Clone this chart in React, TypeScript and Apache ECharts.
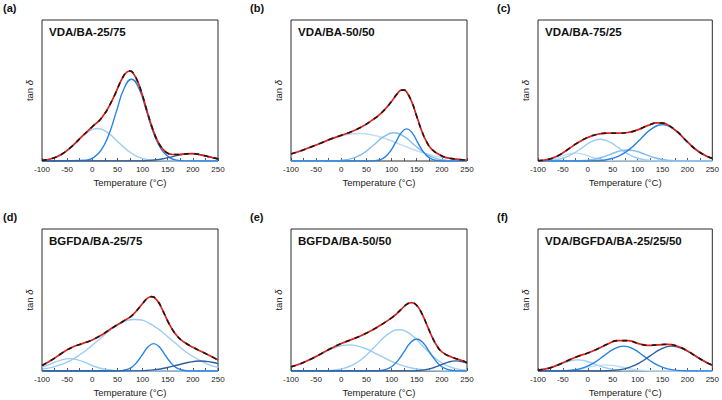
import React, { useEffect, useRef } from "react";
import * as echarts from "echarts";

// ---------- data: [temperature (°C), tan δ (relative units, 0-100 of frame)] ----------
const xTicks = { min: -100, max: 250, step: 50 };

// (a) VDA/BA-25/75
const aTotal = [[-100,0.5],[-80,1.8],[-60,5.0],[-40,10.6],[-20,17.6],[0,24.3],[20,31.2],[40,43.4],[60,58.9],[70,63.4],[75,63.8],[80,63.0],[90,56.6],[100,46.3],[110,34.1],[120,22.8],[130,14.1],[140,8.5],[150,5.5],[160,4.6],[170,4.6],[180,4.9],[195,5.2],[200,5.2],[220,4.0],[240,2.3],[250,1.5]];
const aC1 = [[-100,0.5],[-90,1.0],[-70,3.1],[-50,7.5],[-30,14.0],[-10,20.3],[10,23.0],[30,20.3],[50,14.0],[70,7.5],[90,3.1],[110,1.0],[130,0.3],[150,0.05],[250,0]];
const aC2 = [[-100,0],[-12,0.6],[3,2.6],[18,7.9],[33,18.8],[48,35.2],[63,51.2],[78,58.0],[93,51.2],[108,35.2],[123,18.8],[138,7.9],[153,2.6],[168,0.6],[183,0.1],[250,0]];
const aC3 = [[-100,0],[90,0.06],[107.5,0.23],[125,0.7],[142.5,1.7],[160,3.15],[177.5,4.6],[195,5.2],[212.5,4.6],[230,3.15],[247.5,1.7],[250,1.5]];

// (b) VDA/BA-50/50
const bTotal = [[-100,5.0],[-80,7.3],[-60,10.0],[-40,12.8],[-20,15.7],[0,18.2],[20,20.8],[40,24.1],[60,28.6],[80,34.2],[100,42.2],[110,47.1],[120,50.3],[125,50.3],[130,48.9],[140,42.1],[150,31.7],[160,21.3],[170,13.4],[180,8.3],[200,3.6],[220,1.7],[240,0.9],[250,0.7]];
const bC1 = [[-100,5.0],[-47,11.8],[-6,17.2],[35,19.5],[76,17.2],[117,11.8],[158,6.3],[199,2.6],[240,0.9],[250,0.6]];
const bC2 = [[-100,0],[-28,0.04],[-9,0.2],[10,0.9],[29,2.7],[48,6.5],[67,12.1],[86,17.6],[105,20.0],[124,17.6],[143,12.1],[162,6.5],[181,2.7],[200,0.9],[219,0.2],[238,0.04],[250,0]];
const bC3 = [[-100,0],[56.5,0.05],[67,0.25],[77.5,1.0],[88,3.1],[98.5,7.4],[109,13.8],[119.5,20.1],[130,22.8],[140.5,20.1],[151,13.8],[161.5,7.4],[172,3.1],[182.5,1.0],[193,0.25],[203.5,0.05],[250,0]];

// (c) VDA/BA-75/25
const cTotal = [[-100,0.2],[-80,1.1],[-60,3.7],[-40,8.2],[-20,13.0],[0,16.7],[20,19.0],[40,19.8],[60,19.7],[80,20.2],[100,22.1],[120,25.1],[140,27.1],[150,26.9],[160,25.8],[180,20.6],[200,13.5],[220,7.3],[240,3.2],[250,2.0]];
const cC1 = [[-100,0.15],[-81,0.76],[-67,1.8],[-53,3.4],[-39,4.9],[-25,5.6],[-11,4.9],[3,3.4],[17,1.8],[31,0.76],[45,0.25],[59,0.06],[250,0]];
const cC2 = [[-100,0.05],[-86,0.17],[-67.5,0.7],[-49,2.1],[-30.5,5.0],[-12,9.3],[6.5,13.6],[25,15.4],[43.5,13.6],[62,9.3],[80.5,5.0],[99,2.1],[117.5,0.7],[136,0.17],[154.5,0.03],[250,0]];
const cC3 = [[-100,0],[-25,0.09],[-7.5,0.34],[10,1.06],[27.5,2.5],[45,4.7],[62.5,6.9],[80,7.8],[97.5,6.9],[115,4.7],[132.5,2.5],[150,1.06],[167.5,0.34],[185,0.09],[250,0]];
const cC4 = [[-100,0],[-4,0.05],[18,0.3],[40,1.1],[62,3.5],[84,8.4],[106,15.6],[128,22.8],[150,25.8],[172,22.8],[194,15.6],[216,8.4],[238,3.5],[250,2.0]];

// (d) BGFDA/BA-25/75
const dTotal = [[-100,3.9],[-80,7.9],[-60,12.7],[-40,16.7],[-20,19.3],[0,21.9],[20,25.7],[40,30.4],[60,34.7],[80,39.4],[100,47.5],[110,51.3],[118,52.4],[130,49.2],[140,42.7],[150,35.2],[160,28.8],[170,24.1],[180,21.0],[200,16.7],[220,13.2],[240,9.6],[250,7.8]];
const dC1 = [[-100,2.5],[-80,5.3],[-62.5,7.7],[-45,8.7],[-27.5,7.7],[-10,5.3],[7.5,2.8],[25,1.2],[42.5,0.4],[60,0.1],[77.5,0.02],[250,0]];
const dC2 = [[-100,1.3],[-59,4.9],[-23,11.8],[13,22.0],[49,32.0],[85,36.3],[121,32.0],[157,22.0],[193,11.8],[229,4.9],[250,2.6]];
const dC3 = [[-100,0],[45,0.04],[56,0.2],[67,0.85],[78,2.6],[89,6.3],[100,11.7],[111,17.0],[122,19.3],[133,17.0],[144,11.7],[155,6.3],[166,2.6],[177,0.85],[188,0.2],[199,0.04],[250,0]];
const dC4 = [[-100,0],[80,0.08],[102.5,0.3],[125,0.95],[147.5,2.3],[170,4.25],[192.5,6.2],[215,7.0],[237.5,6.2],[250,5.2]];

// (e) BGFDA/BA-50/50
const eTotal = [[-100,2.9],[-80,5.3],[-60,8.5],[-40,12.2],[-20,16.0],[0,19.3],[20,22.1],[40,25.0],[60,28.5],[80,32.7],[100,37.4],[110,40.3],[120,43.7],[130,46.9],[140,48.2],[150,46.2],[160,40.6],[170,32.7],[180,24.4],[190,17.8],[200,13.5],[220,9.7],[240,7.4],[250,5.9]];
const eC1 = [[-100,2.9],[-75,6.0],[-45,11.2],[-15,16.2],[15,18.4],[45,16.2],[75,11.2],[105,6.0],[135,2.5],[165,0.8],[195,0.2],[250,0]];
const eC2 = [[-100,0],[-49.5,0.06],[-26,0.3],[-2.5,1.3],[21,3.9],[44.5,9.4],[68,17.6],[91.5,25.6],[115,29.0],[138.5,25.6],[162,17.6],[185.5,9.4],[209,3.9],[232.5,1.3],[250,0.5]];
const eC3 = [[-100,0],[62.5,0.05],[75,0.25],[87.5,1.0],[100,3.0],[112.5,7.3],[125,13.6],[137.5,19.9],[150,22.5],[162.5,19.9],[175,13.6],[187.5,7.3],[200,3.0],[212.5,1.0],[225,0.25],[237.5,0.05],[250,0]];
const eC4 = [[-100,0],[138,0.08],[153,0.3],[168,0.96],[183,2.3],[198,4.3],[213,6.3],[228,7.1],[243,6.3],[250,5.4]];

// (f) VDA/BGFDA/BA-25/25/50
const fTotal = [[-100,0.6],[-80,1.8],[-60,4.3],[-40,7.4],[-20,10.3],[0,12.7],[20,15.6],[40,19.0],[60,21.4],[80,21.4],[100,19.5],[120,18.1],[140,18.4],[160,18.8],[180,17.4],[200,14.1],[220,9.7],[240,5.7],[250,4.1]];
const fC1 = [[-100,0.57],[-90,1.06],[-72.5,2.5],[-55,4.7],[-37.5,6.9],[-20,7.8],[-2.5,6.9],[15,4.7],[32.5,2.5],[50,1.06],[67.5,0.34],[85,0.09],[250,0]];
const fC2 = [[-100,0],[-70,0.05],[-52.5,0.19],[-35,0.58],[-17.5,1.4],[0,2.6],[17.5,3.8],[35,4.3],[52.5,3.8],[70,2.6],[87.5,1.4],[105,0.58],[122.5,0.19],[140,0.05],[250,0]];
const fC3 = [[-100,0],[-68,0.04],[-48,0.19],[-28,0.77],[-8,2.4],[12,5.7],[32,10.6],[52,15.4],[72,17.5],[92,15.4],[112,10.6],[132,5.7],[152,2.4],[172,0.77],[192,0.19],[212,0.04],[250,0]];
const fC4 = [[-100,0],[17.5,0.04],[39,0.19],[60.5,0.77],[82,2.4],[103.5,5.7],[125,10.6],[146.5,15.4],[168,17.5],[189.5,15.8],[211,11.7],[232.5,7.1],[250,4.1]];

const titles = ["VDA/BA-25/75", "VDA/BA-50/50", "VDA/BA-75/25", "BGFDA/BA-25/75", "BGFDA/BA-50/50", "VDA/BGFDA/BA-25/25/50"];
const letters = ["(a)", "(b)", "(c)", "(d)", "(e)", "(f)"];

// ---------- styling ----------
const LIGHTEST = "#bcdcf8";
const LIGHT = "#9dccf4";
const LIGHTMED = "#84bced";
const MED = "#2682e4";
const DARK = "#2d5f9f";
const RED = "#e3201b";
const INK = "#1a1a1a";
const FONT = "'Liberation Sans', Arial, Helvetica, sans-serif";

const panels = [
  { total: aTotal, comps: [[aC1, LIGHT], [aC2, MED], [aC3, DARK]] },
  { total: bTotal, comps: [[bC1, LIGHTEST], [bC2, LIGHTMED], [bC3, MED]] },
  { total: cTotal, comps: [[cC1, LIGHTEST], [cC2, LIGHT], [cC3, LIGHTMED], [cC4, MED]] },
  { total: dTotal, comps: [[dC1, LIGHT], [dC2, LIGHT], [dC3, MED], [dC4, DARK]] },
  { total: eTotal, comps: [[eC1, LIGHT], [eC2, LIGHT], [eC3, MED], [eC4, DARK]] },
  { total: fTotal, comps: [[fC1, LIGHT], [fC2, LIGHTEST], [fC3, MED], [fC4, DARK]] },
];

const grids = [
  { left: 42, top: 20, width: 176, height: 141 },
  { left: 291, top: 20, width: 176, height: 141 },
  { left: 538, top: 20, width: 175, height: 141 },
  { left: 42, top: 229, width: 176, height: 142 },
  { left: 291, top: 229, width: 176, height: 142 },
  { left: 538, top: 229, width: 175, height: 142 },
];
const letterPos = [[3, 2], [250, 2], [497, 2], [3, 211], [250, 211], [497, 211]];

function buildOption() {
  const series: any[] = [];
  panels.forEach((p, i) => {
    p.comps.forEach(([data, color]) => {
      series.push({
        type: "line", xAxisIndex: i, yAxisIndex: i, data, smooth: 0.5,
        showSymbol: false, symbol: "none", silent: true,
        lineStyle: { color, width: 1.4 }, z: 2,
      });
    });
    series.push({
      type: "line", xAxisIndex: i, yAxisIndex: i, data: p.total, smooth: 0.5,
      showSymbol: false, symbol: "none", silent: true,
      lineStyle: { color: RED, width: 1.7 }, z: 3,
    });
    series.push({
      type: "line", xAxisIndex: i, yAxisIndex: i, data: p.total, smooth: 0.5,
      showSymbol: false, symbol: "none", silent: true,
      lineStyle: { color: INK, width: 1.6, type: [5, 5] }, z: 4,
    });
  });

  const graphic: any[] = [];
  grids.forEach((g, i) => {
    graphic.push({
      type: "text", x: g.left + 7, y: g.top + 6, z: 10,
      style: { text: titles[i], fontSize: 11.5, fontWeight: "bold", fontFamily: FONT, fill: "#111", verticalAlign: "top" },
    });
    graphic.push({
      type: "text", x: letterPos[i][0], y: letterPos[i][1], z: 10,
      style: { text: letters[i], fontSize: 11, fontWeight: "bold", fontFamily: FONT, fill: "#111", verticalAlign: "top" },
    });
  });

  return {
    animation: false,
    backgroundColor: "#fff",
    grid: grids.map((g) => ({ ...g, show: true, borderColor: "#2b2b2b", borderWidth: 1, backgroundColor: "transparent" })),
    xAxis: grids.map((_, i) => ({
      gridIndex: i, type: "value", min: xTicks.min, max: xTicks.max, interval: xTicks.step,
      name: "Temperature (°C)", nameLocation: "middle", nameGap: 16,
      nameTextStyle: { fontSize: 9.5, color: "#222", fontFamily: FONT },
      axisLine: { show: false },
      axisTick: { show: true, inside: true, length: 3, lineStyle: { color: "#333", width: 0.8 } },
      minorTick: { show: true, splitNumber: 2, length: 3, lineStyle: { color: "#333", width: 0.8 } },
      axisLabel: { fontSize: 8, color: "#222", margin: 4, fontFamily: FONT },
      splitLine: { show: false },
    })),
    yAxis: grids.map((_, i) => ({
      gridIndex: i, type: "value", min: 0, max: 100,
      name: "tan {i|δ}", nameLocation: "middle", nameGap: 8,
      nameTextStyle: { fontSize: 9.5, color: "#222", fontFamily: FONT, rich: { i: { fontStyle: "italic", fontSize: 9.5, color: "#222", fontFamily: FONT } } },
      axisLine: { show: false }, axisTick: { show: false }, axisLabel: { show: false }, splitLine: { show: false },
    })),
    series,
    graphic,
  };
}

export default function App() {
  const ref = useRef<HTMLDivElement>(null);
  useEffect(() => {
    const chart = echarts.init(ref.current as HTMLDivElement, null, { renderer: "svg" });
    chart.setOption(buildOption() as any);
    return () => chart.dispose();
  }, []);
  return <div ref={ref} style={{ position: "fixed", left: 0, top: 0, width: 722, height: 400, background: "#fff" }} />;
}
